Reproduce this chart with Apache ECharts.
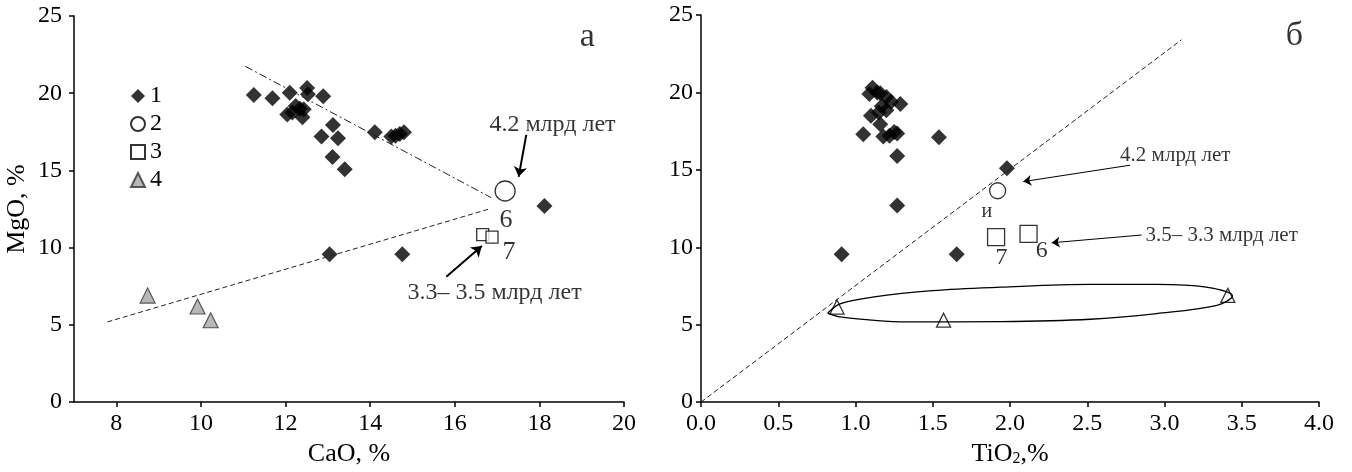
<!DOCTYPE html>
<html>
<head>
<meta charset="utf-8">
<script src="https://cdn.jsdelivr.net/npm/echarts@6/dist/echarts.min.js"></script>
<style>
html, body { margin: 0; padding: 0; background: #fff; }
#chart { width: 1352px; height: 472px; }
</style>
</head>
<body>
<div id="chart"></div>
<script>
// панель а: CaO (x) — MgO (y), %
var aSeries1 = [
  [11.25, 19.88], [11.69, 19.67], [12.10, 20.03], [12.51, 20.33], [12.53, 19.94],
  [12.89, 19.80], [12.04, 18.62], [12.16, 18.75], [12.24, 19.17], [12.34, 19.00],
  [12.43, 18.96], [12.40, 18.45], [12.85, 17.19], [13.12, 17.94], [13.24, 17.08],
  [13.11, 15.87], [13.40, 15.07], [14.11, 17.47], [14.50, 17.19], [14.60, 17.25],
  [14.70, 17.36], [14.80, 17.47], [18.12, 12.70], [13.04, 9.57], [14.76, 9.57]
]
var aSeries2 = [[17.19, 13.67]]
var aSeries3 = [[16.66, 10.85], [16.88, 10.68]]
var aSeries4 = [[8.74, 6.90], [9.92, 6.19], [10.23, 5.30]]
var aTrendUpper = [[11.05, 21.74], [16.86, 13.24]]
var aTrendLower = [[7.79, 5.19], [16.82, 12.51]]

// панель б: TiO2 (x) — MgO (y), %
var bSeries1 = [
  [1.11, 20.30], [1.09, 19.90], [1.14, 20.00], [1.16, 19.95], [1.20, 19.70],
  [1.23, 19.40], [1.29, 19.25], [1.17, 19.10], [1.10, 18.50], [1.15, 18.70],
  [1.20, 18.85], [1.16, 17.95], [1.18, 17.15], [1.22, 17.20], [1.25, 17.45],
  [1.27, 17.35], [1.05, 17.30], [1.54, 17.10], [1.27, 15.90], [1.27, 12.70],
  [0.91, 9.55], [1.655, 9.55], [1.98, 15.10]
]
var bSeries2 = [[1.92, 13.65]]
var bSeries3 = [[1.91, 10.66], [2.12, 10.87]]
var bSeries4 = [[0.88, 6.14], [1.57, 5.29], [3.41, 6.89]]
var bTrend = [[0, 0], [3.11, 23.40]]
var bOutline = [
  [0.82, 5.75], [0.90, 6.35], [1.11, 6.78], [1.50, 7.20], [1.94, 7.42], [2.52, 7.60],
  [2.95, 7.60], [3.27, 7.42], [3.44, 6.85], [3.34, 6.25], [2.95, 5.72], [2.52, 5.35],
  [1.94, 5.20], [1.33, 5.18], [1.11, 5.29], [0.90, 5.50], [0.82, 5.75]
]

var xTicksA = [8, 10, 12, 14, 16, 18, 20]

var FONT = 'Liberation Serif'
var INK = '#000'
var chart = echarts.init(document.getElementById('chart'))

function yAxis(gridIndex, margin, name) {
  return {
    type: 'value', gridIndex: gridIndex, min: 0, max: 25, interval: 5,
    name: name || '', nameLocation: 'middle', nameGap: 44,
    nameTextStyle: { fontFamily: FONT, fontSize: 26, color: INK },
    axisLine: { show: true, lineStyle: { color: INK, width: 1.5 } },
    axisTick: { show: true, length: 5, lineStyle: { color: INK, width: 1.5 } },
    axisLabel: { margin: margin, fontFamily: FONT, fontSize: 24, color: INK },
    splitLine: { show: false }
  }
}

function note(xi, text, x, y, size) {
  return {
    type: 'scatter', xAxisIndex: xi, yAxisIndex: xi, symbolSize: 0, silent: true, z: 5,
    data: [{ value: [x, y], name: text }],
    label: { show: true, position: 'inside', formatter: '{b}', fontFamily: FONT, fontSize: size, color: INK }
  }
}

function arrow(xi, from, to, width) {
  return {
    type: 'lines', coordinateSystem: 'cartesian2d', xAxisIndex: xi, yAxisIndex: xi, silent: true,
    symbol: ['none', 'arrow'], symbolSize: width > 1.2 ? 10 : 8,
    lineStyle: { color: INK, width: width, opacity: 1 },
    data: [{ coords: [from, to] }]
  }
}

var diamond = { color: '#000' }
var openStyle = { color: '#fff', borderColor: INK, borderWidth: 1.3 }

chart.setOption({
  animation: false,
  backgroundColor: '#fff',
  grid: [
    { left: 74, top: 16, width: 550, height: 390 },
    { left: 701, top: 15, width: 618, height: 391 }
  ],
  xAxis: [
    {
      type: 'value', gridIndex: 0, min: 7, max: 20, interval: 1,
      name: 'CaO, %', nameLocation: 'middle', nameGap: 38,
      nameTextStyle: { fontFamily: FONT, fontSize: 26, color: INK },
      axisLine: { lineStyle: { color: INK, width: 1.5 } },
      axisTick: { length: 5, customValues: xTicksA, lineStyle: { color: INK, width: 1.5 } },
      axisLabel: { margin: 10, customValues: xTicksA, fontFamily: FONT, fontSize: 24, color: INK },
      splitLine: { show: false }
    },
    {
      type: 'value', gridIndex: 1, min: 0, max: 4, interval: 0.5,
      name: 'TiO{sub|2},%', nameLocation: 'middle', nameGap: 38,
      nameTextStyle: {
        fontFamily: FONT, fontSize: 26, color: INK,
        rich: { sub: { fontFamily: FONT, fontSize: 16, color: INK, verticalAlign: 'bottom', padding: [10, 0, 0, 0] } }
      },
      axisLine: { lineStyle: { color: INK, width: 1.5 } },
      axisTick: { length: 5, lineStyle: { color: INK, width: 1.5 } },
      axisLabel: {
        margin: 10, fontFamily: FONT, fontSize: 24, color: INK,
        formatter: function(v) { return v.toFixed(1) }
      },
      splitLine: { show: false }
    }
  ],
  yAxis: [yAxis(0, 12, 'MgO, %'), yAxis(1, 8)],
  legend: {
    orient: 'vertical', left: 130, top: 84, padding: 0,
    itemWidth: 14, itemHeight: 14, itemGap: 4,
    textStyle: { fontFamily: FONT, fontSize: 24, lineHeight: 23, color: INK },
    data: ['1', '2', '3', '4'],
    selectedMode: false
  },
  series: [
    // панель а
    { type: 'line', xAxisIndex: 0, yAxisIndex: 0, data: aTrendUpper, symbol: 'none', silent: true,
      lineStyle: { color: '#222', width: 1, type: [8, 3, 2, 3] } },
    { type: 'line', xAxisIndex: 0, yAxisIndex: 0, data: aTrendLower, symbol: 'none', silent: true,
      lineStyle: { color: '#222', width: 1, type: [5, 3] } },
    { name: '1', type: 'scatter', xAxisIndex: 0, yAxisIndex: 0, data: aSeries1,
      symbol: 'diamond', symbolSize: 16, itemStyle: diamond },
    { name: '2', type: 'scatter', xAxisIndex: 0, yAxisIndex: 0, data: aSeries2,
      symbol: 'circle', symbolSize: 20, itemStyle: openStyle },
    { name: '3', type: 'scatter', xAxisIndex: 0, yAxisIndex: 0, data: aSeries3,
      symbol: 'rect', symbolSize: 12, itemStyle: openStyle },
    { name: '4', type: 'scatter', xAxisIndex: 0, yAxisIndex: 0, data: aSeries4,
      symbol: 'triangle', symbolSize: 15, itemStyle: { color: '#a6a6a6', borderColor: '#333', borderWidth: 1.2 } },
    arrow(0, [17.69, 17.30], [17.51, 14.59], 2),
    arrow(0, [15.80, 8.12], [16.64, 10.10], 2),
    note(0, '4.2 млрд лет', 18.31, 17.94, 24),
    note(0, '3.3– 3.5 млрд лет', 16.94, 7.11, 24),
    note(0, '6', 17.21, 11.81, 26),
    note(0, '7', 17.28, 9.74, 26),
    note(0, 'а', 19.13, 23.64, 34),

    // панель б
    { type: 'line', xAxisIndex: 1, yAxisIndex: 1, data: bTrend, symbol: 'none', silent: true,
      lineStyle: { color: '#222', width: 1, type: [5, 3] } },
    { type: 'line', xAxisIndex: 1, yAxisIndex: 1, data: bOutline, symbol: 'none', silent: true, smooth: 0.35,
      lineStyle: { color: INK, width: 1.3 } },
    { name: '1б', type: 'scatter', xAxisIndex: 1, yAxisIndex: 1, data: bSeries1,
      symbol: 'diamond', symbolSize: 16, itemStyle: diamond },
    { name: '2б', type: 'scatter', xAxisIndex: 1, yAxisIndex: 1, data: bSeries2,
      symbol: 'circle', symbolSize: 16, itemStyle: openStyle },
    { name: '3б', type: 'scatter', xAxisIndex: 1, yAxisIndex: 1, data: bSeries3,
      symbol: 'rect', symbolSize: 17, itemStyle: openStyle },
    { name: '4б', type: 'scatter', xAxisIndex: 1, yAxisIndex: 1, data: bSeries4,
      symbol: 'triangle', symbolSize: 14, itemStyle: openStyle },
    arrow(1, [2.777, 15.30], [2.086, 14.24], 1),
    arrow(1, [2.852, 10.79], [2.270, 10.29], 1),
    note(1, '4.2 млрд лет', 3.07, 15.95, 21),
    note(1, '3.5– 3.3 млрд лет', 3.37, 10.79, 21),
    note(1, '6', 2.205, 9.78, 24),
    note(1, '7', 1.945, 9.35, 24),
    note(1, 'и', 1.85, 12.32, 20),
    note(1, 'б', 3.84, 23.61, 34)
  ]
})
</script>
</body>
</html>
